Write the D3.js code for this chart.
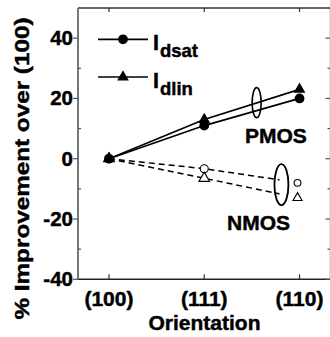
<!DOCTYPE html>
<html><head><meta charset="utf-8">
<script src="https://cdn.jsdelivr.net/npm/d3@7"></script>
<style>body{margin:0;background:#fff}svg{display:block}text{font-family:"Liberation Sans",Arial,sans-serif;font-weight:bold;fill:#000;stroke:#000;stroke-width:0.45px}</style>
</head><body><svg id="c" width="330" height="337"></svg>
<script>
const categories = ["(100)", "(111)", "(110)"];
const pmosIdsat = [0, 11, 20];
const pmosIdlin = [0, 13, 23];
const nmosIdsat = [0, -3.3, -8];
const nmosIdlin = [0, -6.5, -13];
const yTicks = [-40, -20, 0, 20, 40];
const yMinor = [-30, -10, 10, 30];

const svg = d3.select("#c");
const x = d3.scaleLinear().domain([0.675, 3.325]).range([78, 330.5]);
const y = d3.scaleLinear().domain([-40, 50]).range([279.3, 8]);
const xi = i => x(i + 1);

// frame
const g = svg.append("g");
g.append("line").attr("x1", x(0.675)).attr("x2", x(3.325)).attr("y1", y(50)).attr("y2", y(50)).attr("stroke", "#333").attr("stroke-width", 1.3);
g.append("line").attr("x1", x(3.325)).attr("x2", x(3.325)).attr("y1", y(50)).attr("y2", y(-40)).attr("stroke", "#333").attr("stroke-width", 1.3);
g.append("line").attr("x1", x(0.675)).attr("x2", x(3.325)).attr("y1", y(-40)).attr("y2", y(-40)).attr("stroke", "#222").attr("stroke-width", 1.5);
g.append("line").attr("x1", x(0.675)).attr("x2", x(0.675)).attr("y1", y(50)).attr("y2", y(-40)).attr("stroke", "#777").attr("stroke-width", 2);

// left ticks
yTicks.forEach(v => {
  g.append("line").attr("x1", x(0.675) - 5).attr("x2", x(0.675)).attr("y1", y(v)).attr("y2", y(v)).attr("stroke", "#555").attr("stroke-width", 1.2);
  g.append("text").attr("x", 73).attr("y", y(v) + 7).attr("text-anchor", "end").attr("font-size", 20.5).text(v);
});
yMinor.forEach(v => {
  g.append("line").attr("x1", x(0.675)).attr("x2", x(0.675) + 3).attr("y1", y(v)).attr("y2", y(v)).attr("stroke", "#555").attr("stroke-width", 1.2);
});
// right ticks
yTicks.concat(yMinor).forEach(v => {
  const len = yTicks.includes(v) ? 5 : 3;
  g.append("line").attr("x1", x(3.325) - len).attr("x2", x(3.325)).attr("y1", y(v)).attr("y2", y(v)).attr("stroke", "#555").attr("stroke-width", 1.2);
});
// x ticks
categories.forEach((c, i) => {
  g.append("line").attr("x1", xi(i)).attr("x2", xi(i)).attr("y1", y(-40)).attr("y2", y(-40) - 5).attr("stroke", "#333").attr("stroke-width", 1.2);
  g.append("line").attr("x1", xi(i)).attr("x2", xi(i)).attr("y1", y(50)).attr("y2", y(50) + 4).attr("stroke", "#333").attr("stroke-width", 1.2);
  g.append("text").attr("x", xi(i)).attr("y", 306).attr("text-anchor", "middle").attr("font-size", 21).text(c);
});

// titles
svg.append("text").attr("x", 204.5).attr("y", 330).attr("text-anchor", "middle").attr("font-size", 21).text("Orientation");
svg.append("text").attr("transform", "translate(29,168.5) rotate(-90)").attr("text-anchor", "middle").attr("font-size", 21).attr("textLength", 302).attr("lengthAdjust", "spacingAndGlyphs").text("% Improvement over (100)");

const line = d3.line().x((d, i) => xi(i)).y(d => y(d));

// NMOS dashed lines, clipped at ellipse
svg.append("clipPath").attr("id", "nclip").append("rect").attr("x", 0).attr("y", 0).attr("width", x(2.79)).attr("height", 337);
[nmosIdsat, nmosIdlin].forEach(s => {
  svg.append("path").attr("d", line(s)).attr("fill", "none").attr("stroke", "#000").attr("stroke-width", 1.5).attr("stroke-dasharray", "6,4").attr("clip-path", "url(#nclip)");
});
// NMOS hollow markers
nmosIdsat.forEach((v, i) => {
  svg.append("path").attr("d", d3.symbol(d3.symbolCircle, i === 2 ? 36 : 50)()).attr("transform", `translate(${xi(i) - (i === 2 ? 2 : 0)},${y(v)})`).attr("fill", "#fff").attr("stroke", "#000").attr("stroke-width", 1.1);
});
nmosIdlin.forEach((v, i) => {
  svg.append("path").attr("d", d3.symbol(d3.symbolTriangle, i === 2 ? 36 : 50)()).attr("transform", `translate(${xi(i) - (i === 2 ? 2 : 0)},${y(v)})`).attr("fill", "#fff").attr("stroke", "#000").attr("stroke-width", 1.1);
});

// PMOS solid lines
[pmosIdsat, pmosIdlin].forEach(s => {
  svg.append("path").attr("d", line(s)).attr("fill", "none").attr("stroke", "#000").attr("stroke-width", 1.7);
});
pmosIdsat.forEach((v, i) => {
  svg.append("path").attr("d", d3.symbol(d3.symbolCircle, 75)()).attr("transform", `translate(${xi(i)},${y(v)})`).attr("fill", "#000");
});
pmosIdlin.forEach((v, i) => {
  svg.append("path").attr("d", d3.symbol(d3.symbolTriangle, 60)()).attr("transform", `translate(${xi(i)},${y(v)})`).attr("fill", "#000");
});

// ellipses
svg.append("ellipse").attr("cx", x(2.55)).attr("cy", y(18.6)).attr("rx", 4.5).attr("ry", y(18.6) - y(23.6)).attr("fill", "none").attr("stroke", "#000").attr("stroke-width", 1.6);
svg.append("ellipse").attr("cx", x(2.81)).attr("cy", y(-8.6)).attr("rx", 7).attr("ry", y(-8.6) - y(-1.8)).attr("fill", "none").attr("stroke", "#000").attr("stroke-width", 1.8);

svg.append("text").attr("x", 245).attr("y", 143).attr("font-size", 21).text("PMOS");
svg.append("text").attr("x", 227).attr("y", 230).attr("font-size", 21).text("NMOS");

// legend
const leg = [{sym: d3.symbolCircle, size: 75, ly: 39.3, sub: "dsat"}, {sym: d3.symbolTriangle, size: 60, ly: 77, sub: "dlin"}];
leg.forEach(l => {
  svg.append("line").attr("x1", 98).attr("x2", 148).attr("y1", l.ly).attr("y2", l.ly).attr("stroke", "#000").attr("stroke-width", 1.7);
  svg.append("path").attr("d", d3.symbol(l.sym, l.size)()).attr("transform", `translate(123,${l.ly})`).attr("fill", "#000");
  const t = svg.append("text").attr("x", 153).attr("y", l.ly + 11).attr("font-size", 21.5);
  t.append("tspan").text("I");
  t.append("tspan").attr("font-size", 18.5).attr("dy", 7).attr("dx", 1).text(l.sub);
});
</script></body></html>
